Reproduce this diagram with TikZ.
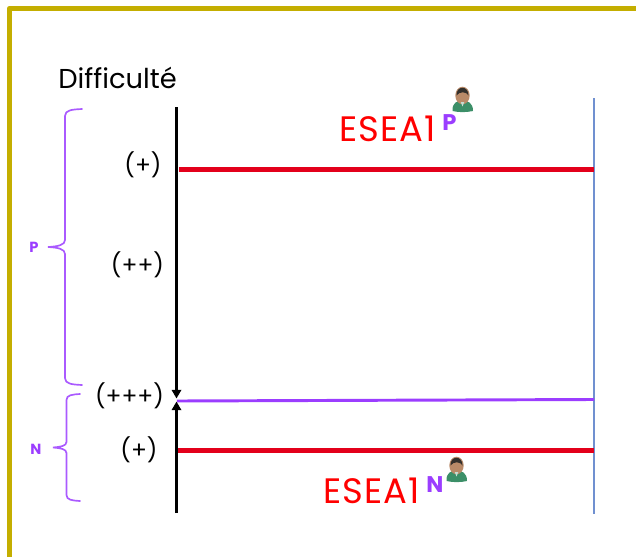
\documentclass[tikz,border=0pt]{standalone}
\usepackage{fontspec}
\setmainfont[Ligatures=NoCommon]{Poppins}
\newfontfamily\eseafont[Ligatures=NoCommon,LetterSpace=3.2]{Poppins}
\usetikzlibrary{arrows.meta}
\definecolor{gold}{HTML}{C4AE00}
\definecolor{redl}{HTML}{E3001B}
\definecolor{purp}{HTML}{9B3DFF}
\definecolor{bluel}{HTML}{7090D0}
\definecolor{skin}{HTML}{B98A68}
\definecolor{hair}{HTML}{33302C}
\definecolor{shirt}{HTML}{3C8F68}
\tikzset{
  axisline/.style={line width=2.4pt,black,-{Triangle[length=6.5pt,width=7pt]}},
  redline/.style={line width=3.8pt,redl},
  purpline/.style={line width=2.2pt,purp},
  brace/.style={line width=1.25pt,purp!85,line cap=round},
  lab/.style={inner sep=0pt,font=\fontsize{17.5}{17.5}\selectfont},
  difflab/.style={inner sep=0pt,anchor=base west,font=\fontsize{20.5}{20.5}\selectfont},
  esea/.style={inner sep=0pt,text=red,font=\eseafont\fontsize{26.5}{26.5}\selectfont,anchor=base west},
  supr/.style={inner sep=0pt,text=purp,font=\bfseries\fontsize{17}{17}\selectfont,anchor=base west},
  bracelab/.style={inner sep=0pt,text=purp,font=\bfseries\fontsize{11}{11}\selectfont},
  person/.pic={
    \fill[shirt] (-10,12.5) .. controls (-10.5,4) and (-5,2) .. (0,2) .. controls (5,2) and (10.5,4) .. (10.5,12.5) .. controls (4,14) and (-4,14) .. (-10,12.5) -- cycle;
    \fill[skin] (0,-3) ellipse (5.4pt and 6.6pt);
    \fill[hair] (-6,-3) .. controls (-6.5,-13) and (6,-13.5) .. (6,-3) .. controls (4,-7) and (-3,-7.5) .. (-6,-3) -- cycle;
    \fill[skin] (-2,1) rectangle (2,4);
    \fill[white!70!shirt] (-1.8,3.5) -- (0,8) -- (1.8,3.5) -- cycle;
  }
}
\begin{document}
\begin{tikzpicture}[x=0.75pt,y=-0.75pt]
\useasboundingbox (0,0) rectangle (636,557);
\draw[line width=3.9pt,gold,line join=round] (9.5,557) -- (9.5,8.5) -- (636,8.5);
% coordinates
\coordinate (axT) at (176.5,107);
\coordinate (axB) at (176.5,513);
\coordinate (mid1) at (176.5,398.5);
\coordinate (mid2) at (176.5,401.5);
\coordinate (r1a) at (179,169.5);
\coordinate (r1b) at (594,169.5);
\coordinate (r2a) at (177,450.5);
\coordinate (r2b) at (594,450.5);
\coordinate (pa) at (177,401);
\coordinate (pb) at (594,399.5);
\coordinate (blT) at (594,98);
\coordinate (blB) at (594,514);
% lines
\draw[bluel,line width=0.9pt] (blT) -- (blB);
\draw[redline] (r1a) -- (r1b);
\draw[redline] (r2a) -- (r2b);
\draw[purpline] (pa) -- (pb);
\draw[axisline] (axT) -- (mid1);
\draw[axisline] (axB) -- (mid2);
% braces
\draw[brace] (82,109) .. controls (72,109.5) and (65,110) .. (65,116) -- (65,240) .. controls (65,245) and (58,246.5) .. (48,247) .. controls (58,247.5) and (65,249) .. (65,254) -- (65,378) .. controls (65,384) and (72,384.5) .. (82,385);
\draw[brace] (80,394) .. controls (72,394.5) and (66.5,395) .. (66.5,400) -- (66.5,442) .. controls (66.5,446) and (60,447) .. (53,447.5) .. controls (60,448) and (66.5,449) .. (66.5,453) -- (66.5,495) .. controls (66.5,500) and (72,500.5) .. (80,501);
% labels
\node[difflab] (diff) at (58,88) {Difficulté};
\node[lab] (l1) at (143,165) {(+)};
\node[lab] (l2) at (137.5,265) {(++)};
\node[lab] (l3) at (129.5,396) {(+++)};
\node[lab] (l4) at (139,450) {(+)};
\node[bracelab] (bp) at (34,247) {P};
\node[bracelab] (bn) at (36,449.5) {N};
\node[esea] (e1) at (339,141.5) {ESEA1};
\node[supr] (s1) at (442,130) {P};
\node[esea] (e2) at (323,503.5) {ESEA1};
\node[supr] (s2) at (426,492) {N};
\pic at (462.5,98.5) {person};
\pic at (456.5,468.5) {person};
\end{tikzpicture}
\end{document}
